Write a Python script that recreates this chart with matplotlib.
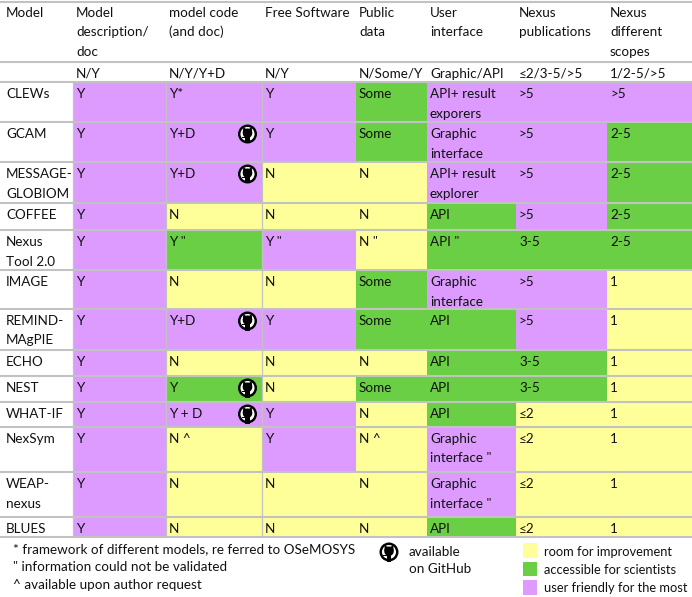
import matplotlib
matplotlib.use("Agg")
import matplotlib.pyplot as plt
from matplotlib.patches import Rectangle, Circle, Polygon

plt.rcParams["font.family"] = ["Lato", "DejaVu Sans"]

# ---- table content ----
headers = ["Model", "Model\ndescription/\ndoc", "model code\n(and doc)", "Free Software",
           "Public\ndata", "User\ninterface", "Nexus\npublications", "Nexus\ndifferent\nscopes"]
scales = ["", "N/Y", "N/Y/Y+D", "N/Y", "N/Some/Y", "Graphic/API", "≤2/3-5/>5", "1/2-5/>5"]

models = ["CLEWs", "GCAM", "MESSAGE-\nGLOBIOM", "COFFEE", "Nexus\nTool 2.0", "IMAGE",
          "REMIND-\nMAgPIE", "ECHO", "NEST", "WHAT-IF", "NexSym", "WEAP-\nnexus", "BLUES"]
desc = ["Y"] * 13
desc_c = "PPPPPPPPPPPPP"
code = ["Y*", "Y+D", "Y+D", "N", 'Y "', "N", "Y+D", "N", "Y", "Y + D", "N ^", "N", "N"]
code_c = "PPPYGYPYGPYYY"
free = ["Y", "Y", "N", "N", 'Y "', "N", "Y", "N", "N", "Y", "Y", "N", "N"]
free_c = "PPYYPYPYYPPYY"
public = ["Some", "Some", "N", "N", 'N "', "Some", "Some", "N", "Some", "N", "N ^", "N", "N"]
public_c = "GGYYYGGYGYYYY"
ui = ["API+ result\nexporers", "Graphic\ninterface", "API+ result\nexplorer", "API", 'API "',
      "Graphic\ninterface", "API", "API", "API", "API", 'Graphic\ninterface "',
      'Graphic\ninterface "', "API"]
ui_c = "PPPGGPGGGGPPG"
pubs = [">5", ">5", ">5", ">5", "3-5", ">5", ">5", "3-5", "3-5", "≤2", "≤2", "≤2", "≤2"]
pubs_c = "PPPPGPPGGYYYY"
scopes = [">5", "2-5", "2-5", "2-5", "2-5", "1", "1", "1", "1", "1", "1", "1", "1"]
scopes_c = "PGGGGYYYYYYYY"
on_github = [False, True, True, False, False, False, True, False, True, True, False, False, False]

footnotes = ["* framework of different models, re ferred to OSeMOSYS",
             '" information could not be validated',
             "^ available upon author request"]
legend_labels = ["room for improvement", "accessible for scientists", "user friendly for the most"]

COLORS = {"Y": "#FFFF99", "G": "#6ACF45", "P": "#DD9BFF"}

# ---- layout (pixels) ----
col_edges = [0, 73, 166, 262, 356, 427, 516, 607, 692]
row_edges = [82, 122, 162, 203, 230, 270, 309, 350, 376, 402, 427, 472, 517, 537]
LINE = "#C2C2C2"
FS = 9.7
STEP = 19.5
INK = "#111111"


def put(ax, x, y, txt, fs=FS):
    for i, line in enumerate(txt.split("\n")):
        ax.text(x, y + i * STEP, line, fontsize=fs, va="baseline", ha="left", color=INK)


def octocat(ax, cx, cy, r=9.5):
    # github mark: black ring, white gap, black cat head + body joined to the ring
    ax.add_patch(Circle((cx, cy), r, color="black", lw=0, zorder=5))
    ax.add_patch(Circle((cx, cy), r * 0.74, color="white", lw=0, zorder=6))
    ax.add_patch(Circle((cx, cy - r * 0.08), r * 0.5, color="black", lw=0, zorder=7))
    for s in (-1, 1):
        ax.add_patch(Polygon([(cx + s * r * 0.5, cy - r * 0.1), (cx + s * r * 0.44, cy - r * 0.72),
                              (cx + s * r * 0.1, cy - r * 0.5)], color="black", lw=0, zorder=7))
    ax.add_patch(Rectangle((cx - r * 0.22, cy + r * 0.2), r * 0.44, r * 0.8, color="black", lw=0, zorder=7))
    ax.add_patch(Rectangle((cx - r * 0.6, cy + r * 0.32), r * 0.4, r * 0.14, color="black", lw=0, zorder=7))


fig = plt.figure(figsize=(6.92, 5.97), dpi=100)
ax = fig.add_axes([0, 0, 1, 1])
ax.set_xlim(0, 692)
ax.set_ylim(597, 0)
ax.axis("off")

columns = [(desc, desc_c), (code, code_c), (free, free_c), (public, public_c),
           (ui, ui_c), (pubs, pubs_c), (scopes, scopes_c)]

# header
for j, h in enumerate(headers):
    put(ax, col_edges[j] + (6 if j == 0 else 3), 17, h)
    put(ax, col_edges[j] + 3, 78, scales[j])

# body
for i, m in enumerate(models):
    top, bot = row_edges[i], row_edges[i + 1]
    put(ax, 6, top + 16, m)
    for j, (vals, cols) in enumerate(columns):
        x0, x1 = col_edges[j + 1], col_edges[j + 2]
        ax.add_patch(Rectangle((x0, top), x1 - x0, bot - top, color=COLORS[cols[i]], lw=0, zorder=1))
        put(ax, x0 + 3, top + 16, vals[i])
    if on_github[i]:
        octocat(ax, 247.5, top + 12)

# grid lines
for y in [2, 62] + row_edges:
    ax.plot([0, 692], [y, y], color=LINE, lw=1.5, zorder=3, solid_capstyle="butt")
for x in col_edges[1:4]:
    ax.plot([x, x], [row_edges[0], row_edges[-1]], color=LINE, lw=0.9, zorder=3)

# footnotes
for k, f in enumerate(footnotes):
    ax.text(13, 553 + k * 18, f, fontsize=FS, va="baseline", ha="left", color=INK)

# github legend
octocat(ax, 389, 552)
ax.text(409, 556, "available", fontsize=FS, va="baseline", ha="left", color=INK)
ax.text(409, 573, "on GitHub", fontsize=FS, va="baseline", ha="left", color=INK)

# colour legend
for k, (lab, key) in enumerate(zip(legend_labels, "YGP")):
    y0 = 543 + k * 18.5
    ax.add_patch(Rectangle((523, y0), 14, 14.5, color=COLORS[key], lw=0))
    ax.text(544, y0 + 12.5, lab, fontsize=9.3, va="baseline", ha="left", color=INK)

fig.savefig("out.png", dpi=100)
